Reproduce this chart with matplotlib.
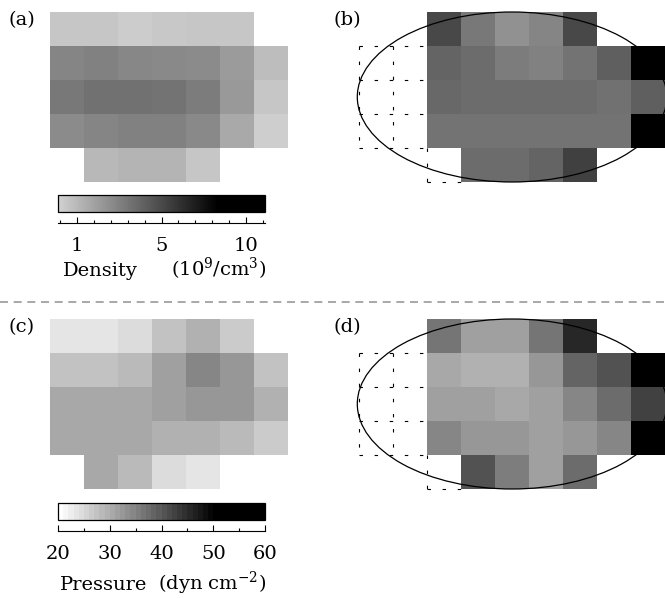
import numpy as np
import matplotlib
matplotlib.use("Agg")
import matplotlib.pyplot as plt
from matplotlib.colors import LinearSegmentedColormap
from matplotlib.patches import Ellipse
from matplotlib.lines import Line2D
from matplotlib.ticker import FixedLocator, FixedFormatter

plt.rcParams['font.family'] = 'DejaVu Serif'
plt.rcParams['mathtext.fontset'] = 'dejavuserif'

N = np.nan

# density maps (colour-bar units), rows top to bottom, 7 columns
density_a = [
    [-0.6, -0.6, -0.9, -0.7, -0.6, -0.6, N],
    [2.3, 2.5, 2.2, 2.1, 2.0, 1.3, -0.2],
    [2.9, 3.2, 3.2, 3.1, 2.7, 1.4, -0.6],
    [2.0, 2.3, 2.5, 2.5, 2.1, 0.7, -1.0],
    [N, 0.0, 0.2, 0.2, -0.6, N, N],
]
density_b = [
    [5.0, 2.9, 1.8, 2.3, 5.0, N, N],
    [3.8, 3.4, 2.7, 2.5, 3.1, 4.0, 9.0],
    [3.6, 3.4, 3.4, 3.4, 3.4, 3.2, 4.0],
    [3.1, 3.1, 3.1, 3.1, 3.1, 3.1, 9.0],
    [N, 3.4, 3.4, 3.8, 5.4, N, N],
]
# pressure maps (dyn cm^-2)
pressure_c = [
    [23.2, 23.2, 24.2, 27.0, 29.4, 26.1, N],
    [27.7, 27.7, 28.5, 31.3, 34.2, 32.8, 27.5],
    [30.4, 30.6, 30.8, 31.3, 32.8, 32.3, 29.4],
    [30.4, 30.6, 30.8, 29.9, 29.9, 28.5, 26.1],
    [N, 30.8, 28.0, 24.2, 23.7, N, N],
]
pressure_d = [
    [36.6, 31.8, 31.3, 36.1, 45.6, N, N],
    [30.4, 29.2, 29.2, 32.8, 38.0, 40.9, 55.0],
    [31.8, 31.3, 30.8, 31.8, 34.2, 37.0, 42.8],
    [34.2, 32.8, 32.3, 31.8, 32.8, 34.2, 55.0],
    [N, 40.9, 35.6, 31.8, 37.0, N, N],
]

dens_range = (-1.1, 11.1)
dens_ticks = list(range(-1, 12))
dens_major = [0, 5, 10]
dens_labels = ['1', '5', '10']
pres_range = (20, 60)
pres_major = [20, 30, 40, 50, 60]

W, H = 665, 599
fig = plt.figure(figsize=(W / 100, H / 100), dpi=100)


def px_axes(x0, y0, x1, y1):
    return fig.add_axes([x0 / W, 1 - y1 / H, (x1 - x0) / W, (y1 - y0) / H])


dens_cmap = LinearSegmentedColormap.from_list(
    'dens', [(0, (0.82, 0.82, 0.82)), (0.77, (0, 0, 0)), (1, (0, 0, 0))])
pres_cmap = LinearSegmentedColormap.from_list(
    'pres', [(0, (1, 1, 1)), (0.76, (0, 0, 0)), (1, (0, 0, 0))], N=40)
for cm in (dens_cmap, pres_cmap):
    cm.set_bad((1, 1, 1, 0))


def grid_panel(x0, y0, data, cmap, vrange, ellipse):
    ax = px_axes(x0, y0, x0 + 238, y0 + 170)
    im = ax.imshow(np.array(data, dtype=float), cmap=cmap, vmin=vrange[0], vmax=vrange[1],
                   extent=(0, 7, 5, 0), aspect='auto', interpolation='nearest')
    ax.set_xlim(0, 7)
    ax.set_ylim(5, 0)
    ax.axis('off')
    if ellipse:
        ax.add_patch(Ellipse((2.5, 2.5), 9.1, 5.0, fill=False, lw=0.9,
                             color='black', clip_on=False))
        dash = dict(color='black', lw=0.8, ls=(0, (3.1, 10.5)), clip_on=False)
        for r in (1, 2, 3, 4):
            ax.plot([-2, 0], [r, r], **dash)
        for c in (-2, -1):
            ax.plot([c, c], [1, 4], **dash)
        ax.plot([0, 0], [4, 5], **dash)
        ax.plot([0, 1], [5, 5], **dash)
    return im


def colorbar(im, y0, ticks_minor, ticks_major, labels, vrange):
    cax = px_axes(58, y0, 265, y0 + 17)
    cb = fig.colorbar(im, cax=cax, orientation='horizontal')
    cb.outline.set_linewidth(0.9)
    cax.set_xticks([])
    tax = px_axes(58, y0 + 10, 265, y0 + 28)
    tax.set_xlim(*vrange)
    tax.set_yticks([])
    for s in ('top', 'left', 'right'):
        tax.spines[s].set_visible(False)
    tax.spines['bottom'].set_linewidth(0.8)
    tax.xaxis.set_major_locator(FixedLocator(ticks_major))
    tax.xaxis.set_major_formatter(FixedFormatter(labels))
    tax.xaxis.set_minor_locator(FixedLocator(ticks_minor))
    tax.tick_params(axis='x', which='major', direction='in', length=4.3, width=0.8,
                    labelsize=14, pad=10)
    tax.tick_params(axis='x', which='minor', direction='in', length=2.2, width=0.8)
    tax.patch.set_alpha(0)
    return tax


im_a = grid_panel(50, 12, density_a, dens_cmap, dens_range, False)
grid_panel(427, 12, density_b, dens_cmap, dens_range, True)
im_c = grid_panel(50, 319, pressure_c, pres_cmap, pres_range, False)
grid_panel(427, 319, pressure_d, pres_cmap, pres_range, True)

colorbar(im_a, 195, dens_ticks, dens_major, dens_labels, dens_range)
colorbar(im_c, 503, list(range(20, 61, 5)), pres_major, [str(v) for v in pres_major], pres_range)


def ftext(x, y, s, **kw):
    fig.text(x / W, 1 - y / H, s, fontsize=14, **kw)


ftext(8, 20, '(a)', va='center')
ftext(333, 20, '(b)', va='center')
ftext(8, 327, '(c)', va='center')
ftext(333, 327, '(d)', va='center')
ftext(63, 276, 'Density', va='baseline')
ftext(266, 276, r'(10$^9$/cm$^3$)', va='baseline', ha='right')
ftext(60, 590, 'Pressure', va='baseline')
ftext(266, 590, r'(dyn cm$^{-2}$)', va='baseline', ha='right')

fig.add_artist(Line2D([0, 1], [1 - 302 / H] * 2, transform=fig.transFigure,
                      color='#999999', lw=1.2, ls=(0, (4.8, 3.4))))

fig.savefig('out.png', dpi=100)
